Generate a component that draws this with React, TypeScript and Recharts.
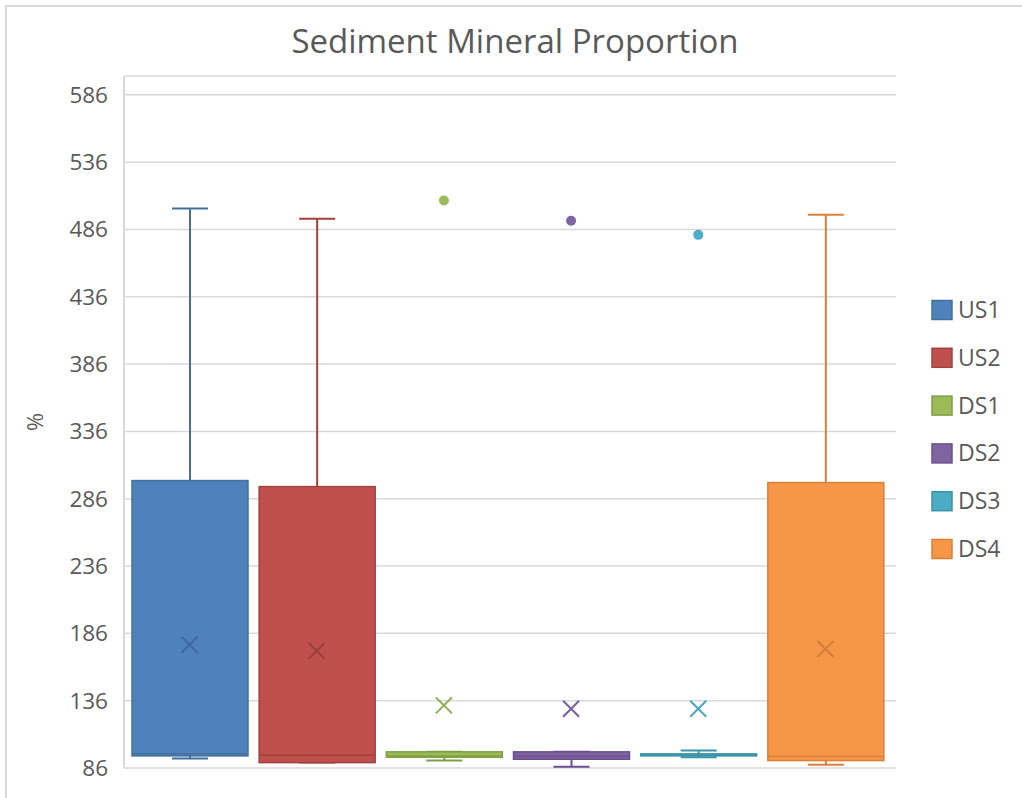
import { ComposedChart, Bar, Scatter, XAxis, YAxis, CartesianGrid } from 'recharts'

// box plot stats (values in %)
const categories = ['US1', 'US2', 'DS1', 'DS2', 'DS3', 'DS4']
const minVals = [93, 90, 91.5, 87, 94, 88.5]
const q1Vals = [95, 90, 94, 92.5, 95, 91.5]
const medianVals = [96.5, 95.5, 95, 95, 95.5, 94.5]
const q3Vals = [299.5, 295, 98, 98, 96.5, 298]
const maxVals = [501.5, 494, 98, 98, 99, 497]
const meanVals = [177.6, 173, 132.5, 130, 130, 174.5]
const outlierVals: (number | null)[] = [null, null, 507.5, 492.5, 482, null]
const yTicks = [86, 136, 186, 236, 286, 336, 386, 436, 486, 536, 586]

const fills = ['#4f81bd', '#c0504d', '#9bbb59', '#8064a2', '#4bacc6', '#f79646']
const strokes = ['#41719c', '#a3403d', '#7f9f45', '#6a5090', '#3a93a8', '#d9813a']
const meanColors = ['#41699b', '#963d3a', '#8cae4f', '#7a5e9c', '#48a6bf', '#cf7d3a']

const rows = categories.map((name, i) => ({
  name,
  min: minVals[i],
  q1: q1Vals[i],
  median: medianVals[i],
  q3: q3Vals[i],
  max: maxVals[i],
  mean: meanVals[i],
  outlier: outlierVals[i],
}))

const textColor = '#595959'
const gridColor = '#d9d9d9'

function BoxShape(props: any) {
  const { x, y, width, height, payload, index } = props
  const lo = payload.min
  const hi = payload.max
  // map a value into pixels using the bar's own [min, max] rectangle
  const toY = (v: number) => (hi === lo ? y : y + (height * (hi - v)) / (hi - lo))
  const cx = x + width / 2
  const cap = 36
  const stroke = strokes[index]
  const top = toY(payload.q3)
  const bottom = toY(payload.q1)
  return (
    <g>
      <line x1={cx} x2={cx} y1={toY(hi)} y2={top} stroke={stroke} strokeWidth={2} />
      <line x1={cx - cap / 2} x2={cx + cap / 2} y1={toY(hi)} y2={toY(hi)} stroke={stroke} strokeWidth={2} />
      <line x1={cx} x2={cx} y1={bottom} y2={toY(lo)} stroke={stroke} strokeWidth={2} />
      <line x1={cx - cap / 2} x2={cx + cap / 2} y1={toY(lo)} y2={toY(lo)} stroke={stroke} strokeWidth={2} />
      <rect
        x={x}
        y={top}
        width={width}
        height={Math.max(bottom - top, 1)}
        fill={fills[index]}
        stroke={stroke}
        strokeWidth={1.5}
      />
      <line x1={x} x2={x + width} y1={toY(payload.median)} y2={toY(payload.median)} stroke={stroke} strokeWidth={1.5} />
    </g>
  )
}

function MeanMarker(props: any) {
  const { cx, cy, payload } = props
  const i = categories.indexOf(payload.name)
  const s = 8
  return (
    <g stroke={meanColors[i]} strokeWidth={2}>
      <line x1={cx - s} y1={cy - s} x2={cx + s} y2={cy + s} />
      <line x1={cx - s} y1={cy + s} x2={cx + s} y2={cy - s} />
    </g>
  )
}

function OutlierDot(props: any) {
  const { cx, cy, payload } = props
  if (payload.outlier == null || cy == null || isNaN(cy)) return <g />
  const i = categories.indexOf(payload.name)
  return <circle cx={cx} cy={cy} r={5} fill={fills[i]} />
}

export default function App() {
  return (
    <div
      style={{
        position: 'absolute',
        left: 0,
        top: 0,
        width: 1022,
        height: 798,
        overflow: 'hidden',
        background: '#fff',
        fontFamily: '"Open Sans", sans-serif',
      }}
    >
      {/* chart frame, only top/left edges are in view */}
      <div
        style={{
          position: 'absolute',
          left: 5,
          top: 5,
          width: 1040,
          height: 820,
          border: `2px solid ${gridColor}`,
        }}
      />
      <div style={{ position: 'absolute', left: 0, top: 0 }}>
        <ComposedChart
          width={1000}
          height={790}
          data={rows}
          margin={{ top: 76, right: 104, bottom: 22, left: 0 }}
        >
          <CartesianGrid vertical={false} stroke={gridColor} strokeWidth={1.5} />
          <XAxis dataKey="name" hide padding={{ left: 2, right: 7 }} />
          <YAxis
            type="number"
            domain={[86, 600]}
            ticks={yTicks}
            width={124}
            axisLine={{ stroke: gridColor, strokeWidth: 2 }}
            tickLine={false}
            tickMargin={10}
            tick={{ fill: textColor, fontSize: 22.5 }}
          />
          <Bar
            dataKey={(d: any) => [d.min, d.max]}
            barSize={116}
            shape={BoxShape}
            isAnimationActive={false}
          />
          <Scatter dataKey="mean" shape={MeanMarker} isAnimationActive={false} />
          <Scatter dataKey="outlier" shape={OutlierDot} isAnimationActive={false} />
        </ComposedChart>
      </div>
      <svg
        width={1022}
        height={798}
        style={{ position: 'absolute', left: 0, top: 0, pointerEvents: 'none' }}
      >
        <text x={515} y={53} textAnchor="middle" fontSize={33} fill={textColor}>
          Sediment Mineral Proportion
        </text>
        <text
          x={0}
          y={0}
          transform="translate(43 422) rotate(-90)"
          textAnchor="middle"
          fontSize={22}
          fill={textColor}
        >
          %
        </text>
        {categories.map((name, i) => {
          const cy = 310 + i * 47.8
          return (
            <g key={name}>
              <rect x={932} y={cy - 9.5} width={20} height={19} fill={fills[i]} stroke={strokes[i]} strokeWidth={1.5} />
              <text x={958} y={cy + 8} fontSize={23} fill={textColor}>
                {name}
              </text>
            </g>
          )
        })}
      </svg>
    </div>
  )
}
